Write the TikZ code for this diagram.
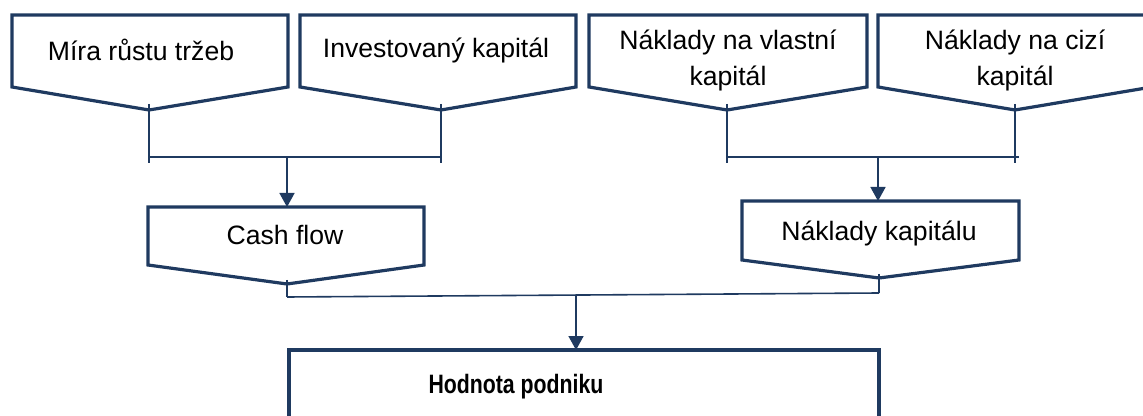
\documentclass[tikz,border=0pt]{standalone}
\usepackage{fontspec}
\usepackage{graphicx}
\setmainfont{Liberation Sans}
\usetikzlibrary{arrows.meta}
\definecolor{navy}{RGB}{31,58,96}

\begin{document}
\begin{tikzpicture}[x=0.5pt, y=-0.5pt]
        \tikzstyle{frame} = [draw=navy, line width=1.6pt, fill=white, line join=miter]
        \tikzstyle{blk} = [draw=navy, line width=0.8pt]
        \tikzstyle{arr} = [-{Triangle[length=7pt, width=7.5pt]}]
        \tikzstyle{txt} = [font=\fontsize{13.3}{18}\selectfont, align=center, inner sep=0pt]

        \useasboundingbox (0,0) rectangle (1143,416);
        \clip (0,0) rectangle (1143,416);

        % boxes
        \draw[frame] (12,15) -- (288,15) -- (288,87) -- (149,110) -- (12,87) -- cycle;
        \draw[frame] (300,15) -- (576,15) -- (576,87) -- (441,110) -- (300,87) -- cycle;
        \draw[frame] (589,15) -- (867,15) -- (867,87) -- (727,110) -- (589,87) -- cycle;
        \draw[frame] (878,15) -- (1152,15) -- (1152,87) -- (1015,110) -- (878,87) -- cycle;
        \draw[frame] (148,207) -- (424,207) -- (424,265) -- (287,284) -- (148,265) -- cycle;
        \draw[frame] (742,201) -- (1019,201) -- (1019,260) -- (879,278) -- (742,260) -- cycle;
        \draw[frame] (289,350) rectangle (879,440);

        \node[txt] (growth) at (141,50) {Míra růstu tržeb};
        \node[txt] (invest) at (436,50) {Investovaný kapitál};
        \node[txt] (equity) at (728,60) {Náklady na vlastní\\kapitál};
        \node[txt] (debt) at (1015,60) {Náklady na cizí\\kapitál};
        \node[txt] (cashflow) at (285,235) {Cash flow};
        \node[txt] (capcost) at (879,233) {Náklady kapitálu};
        \node[txt] (value) at (516,387) {\scalebox{0.8}[1]{\bfseries Hodnota podniku}};

        % tips and joints
        \coordinate (growth tip) at (149,110);
        \coordinate (invest tip) at (441,110);
        \coordinate (equity tip) at (727,110);
        \coordinate (debt tip) at (1015,110);
        \coordinate (cashflow top) at (287,207);
        \coordinate (capcost top) at (878,201);
        \coordinate (cashflow tip) at (287,284);
        \coordinate (capcost tip) at (879,278);
        \coordinate (value top) at (576,350);

        \coordinate (left bar) at (149,157);
        \coordinate (left join) at (287,157);
        \coordinate (right bar) at (1019,157);
        \coordinate (right join) at (878,157);
        \coordinate (low left) at (287,297);
        \coordinate (low right) at (879,293);
        \coordinate (low join) at (576,294.5);

        \path[blk] ([yshift=3pt]growth tip) -- ([yshift=-26.5pt]growth tip);
        \path[blk] ([yshift=3pt]invest tip) -- ([yshift=-26.5pt]invest tip);
        \path[blk] ([yshift=3pt]equity tip) -- ([yshift=-26.5pt]equity tip);
        \path[blk] ([yshift=3pt]debt tip) -- ([yshift=-26.5pt]debt tip);
        \path[blk] (left bar) -- (invest tip |- left bar);
        \path[blk] (equity tip |- right bar) -- (right bar);
        \path[blk, arr] (left join) -- (cashflow top);
        \path[blk, arr] (right join) -- (capcost top);

        \path[blk] ([yshift=2pt]cashflow tip) -- (low left);
        \path[blk] ([yshift=2pt]capcost tip) -- (low right);
        \path[blk] (low left) -- (low right);
        \path[blk, arr] (low join) -- (value top);
\end{tikzpicture}
\end{document}
